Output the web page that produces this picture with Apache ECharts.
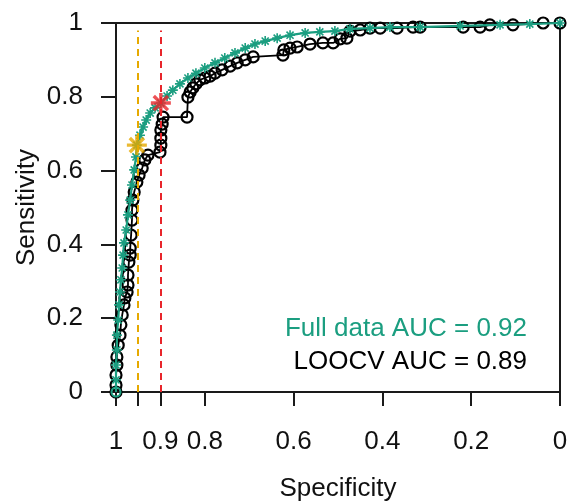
<!DOCTYPE html>
<html>
<head>
<meta charset="utf-8">
<script src="https://cdn.jsdelivr.net/npm/echarts@6/dist/echarts.min.js"></script>
<style>
html,body{margin:0;padding:0;background:#fff;}
#chart{width:568px;height:503px;}
</style>
</head>
<body>
<div id="chart"></div>
<script>
// ---- Data (specificity, sensitivity) ----
const fullSpec = [1.000,1.000,1.000,0.998,0.998,0.995,0.993,0.991,0.989,0.986,0.984,0.982,0.977,0.973,0.968,0.964,0.959,0.955,0.953,0.946,0.939,0.932,0.923,0.912,0.899,0.885,0.872,0.856,0.838,0.820,0.800,0.777,0.755,0.732,0.709,0.687,0.664,0.637,0.608,0.574,0.541,0.507,0.473,0.428,0.383,0.315,0.225,0.135,0.068,0.000];
const fullSens = [0.000,0.033,0.073,0.114,0.154,0.195,0.236,0.271,0.304,0.336,0.371,0.404,0.439,0.480,0.520,0.561,0.602,0.637,0.669,0.696,0.718,0.737,0.756,0.770,0.783,0.802,0.818,0.835,0.851,0.864,0.878,0.892,0.905,0.919,0.932,0.943,0.951,0.959,0.967,0.973,0.976,0.978,0.984,0.986,0.989,0.989,0.992,0.995,0.997,1.000];

const loocvSpec = [1.000,1.000,1.000,0.998,0.998,0.995,0.991,0.989,0.986,0.982,0.980,0.975,0.973,0.973,0.971,0.968,0.968,0.966,0.964,0.964,0.962,0.959,0.953,0.948,0.941,0.935,0.928,0.901,0.899,0.899,0.899,0.896,0.894,0.840,0.838,0.833,0.827,0.820,0.811,0.800,0.788,0.777,0.761,0.743,0.727,0.709,0.691,0.624,0.622,0.608,0.592,0.563,0.534,0.511,0.495,0.480,0.473,0.450,0.428,0.405,0.367,0.331,0.315,0.218,0.180,0.158,0.106,0.038,0.000];
const loocvSens = [0.000,0.019,0.046,0.073,0.095,0.127,0.154,0.182,0.209,0.236,0.255,0.271,0.290,0.317,0.352,0.371,0.390,0.425,0.466,0.493,0.520,0.542,0.569,0.588,0.607,0.629,0.642,0.650,0.669,0.688,0.710,0.726,0.745,0.745,0.799,0.813,0.824,0.835,0.846,0.851,0.856,0.864,0.873,0.883,0.892,0.900,0.908,0.913,0.927,0.932,0.935,0.943,0.946,0.946,0.957,0.959,0.978,0.981,0.986,0.986,0.986,0.989,0.989,0.989,0.989,0.995,0.995,1.000,1.000];

// Optimal cut-off points [specificity, sensitivity]
const fullDataBest = [0.899, 0.783];
const fullDataAlt  = [0.953, 0.669];
const cutoffLines  = [0.95, 0.9];

// Axis ticks
const xTickValues  = [1, 0.95, 0.9, 0.8, 0.6, 0.4, 0.2, 0];
const xLabelValues = [1, 0.9, 0.8, 0.6, 0.4, 0.2, 0];

const aucTexts = ['Full data AUC = 0.92', 'LOOCV AUC = 0.89'];

// ---- Styles ----
const TEAL = '#1b9e80';
const BLACK = '#000';
const RED = '#e8252b';
const GOLD = '#e6a900';
const AXC = '#1a1a1a';
const FONT = '"Liberation Sans", Arial, sans-serif';

function asteriskPath(arms, hw) {
  let p = '';
  for (let i = 0; i < arms; i++) {
    const t = Math.PI * i / arms;
    const dx = Math.cos(t), dy = Math.sin(t);
    const nx = -dy * hw, ny = dx * hw;
    const pts = [[dx + nx, dy + ny], [-dx + nx, -dy + ny], [-dx - nx, -dy - ny], [dx - nx, dy - ny]];
    p += 'M' + pts.map(q => (q[0] * 100).toFixed(1) + ' ' + (q[1] * 100).toFixed(1)).join(' L') + ' Z ';
  }
  return 'path://' + p;
}
const AST = asteriskPath(4, 0.16);
const AST_BIG = asteriskPath(4, 0.17);

const zip = (a, b) => a.map((v, i) => [v, b[i]]);

const chart = echarts.init(document.getElementById('chart'), null, {renderer: 'canvas'});

const fullData = zip(fullSpec, fullSens).map((d, i) =>
  i === 0 ? {value: d, symbol: 'circle', symbolSize: 9, itemStyle: {color: 'rgba(0,0,0,0)', borderColor: TEAL, borderWidth: 2}} : d);

const frameAxis = {
  show: true, min: 0, max: 1, type: 'value',
  axisLine: {show: true, onZero: false, lineStyle: {color: AXC, width: 2}},
  axisTick: {show: false}, axisLabel: {show: false}, splitLine: {show: false}
};

chart.setOption({
  animation: false,
  backgroundColor: '#fff',
  textStyle: {fontFamily: FONT},
  grid: {left: 116, top: 23, width: 444, height: 369, show: false, containLabel: false, outerBoundsMode: 'none'},
  xAxis: [{
    type: 'value', min: 0, max: 1, interval: 0.05, inverse: true, position: 'bottom',
    name: 'Specificity', nameLocation: 'middle', nameGap: 84, nameMoveOverlap: false,
    nameTextStyle: {fontSize: 26, color: '#111', fontFamily: FONT},
    axisLine: {show: true, onZero: false, lineStyle: {color: AXC, width: 2}},
    axisTick: {show: true, length: 14, inside: false, customValues: xTickValues, lineStyle: {color: AXC, width: 2}},
    axisLabel: {customValues: xLabelValues, fontSize: 26, color: '#111', margin: 37, fontFamily: FONT,
      hideOverlap: false,
      formatter: v => String(Math.round(v * 100) / 100)},
    splitLine: {show: false}
  }, Object.assign({}, frameAxis, {position: 'top', inverse: true})],
  yAxis: [{
    type: 'value', min: 0, max: 1, interval: 0.2, position: 'left',
    name: 'Sensitivity', nameLocation: 'middle', nameGap: 76, nameMoveOverlap: false,
    nameTextStyle: {fontSize: 26, color: '#111', fontFamily: FONT},
    axisLine: {show: true, onZero: false, lineStyle: {color: AXC, width: 2}},
    axisTick: {show: true, length: 15, inside: false, lineStyle: {color: AXC, width: 2}},
    axisLabel: {fontSize: 26, color: '#111', margin: 33, fontFamily: FONT,
      hideOverlap: false,
      verticalAlign: 'middle', verticalAlignMinLabel: 'middle', verticalAlignMaxLabel: 'middle',
      formatter: v => String(Math.round(v * 10) / 10)},
    splitLine: {show: false}
  }, Object.assign({}, frameAxis, {position: 'right'})],
  series: [
    {
      name: 'LOOCV', type: 'line', data: zip(loocvSpec, loocvSens),
      symbol: 'circle', symbolSize: 11, showAllSymbol: true, z: 2,
      lineStyle: {color: BLACK, width: 1.8},
      itemStyle: {color: 'rgba(0,0,0,0)', borderColor: BLACK, borderWidth: 2.2},
      emphasis: {disabled: true}
    },
    {
      name: 'Full data', type: 'line', data: fullData,
      symbol: AST, symbolSize: 10, showAllSymbol: true, z: 3,
      lineStyle: {color: TEAL, width: 2.2},
      itemStyle: {color: TEAL},
      emphasis: {disabled: true},
      markLine: {
        silent: true, symbol: ['none', 'none'], label: {show: false},
        data: [
          [{coord: [cutoffLines[0], 0], lineStyle: {color: GOLD}}, {coord: [cutoffLines[0], 0.98]}],
          [{coord: [cutoffLines[1], 0], lineStyle: {color: RED}}, {coord: [cutoffLines[1], 0.98]}]
        ],
        lineStyle: {type: [7, 5], width: 2}
      }
    },
    {
      name: 'cut1', type: 'scatter', data: [fullDataAlt], symbol: AST_BIG, symbolSize: 20, z: 5,
      itemStyle: {color: GOLD}, emphasis: {disabled: true}
    },
    {
      name: 'cut2', type: 'scatter', data: [fullDataBest], symbol: AST_BIG, symbolSize: 20, z: 5,
      itemStyle: {color: RED}, emphasis: {disabled: true}
    }
  ],
  graphic: [
    {type: 'text', x: 527, y: 329, z: 10, style: {text: aucTexts[0], fill: TEAL, font: '26px ' + FONT, align: 'right', verticalAlign: 'middle'}},
    {type: 'text', x: 527, y: 362, z: 10, style: {text: aucTexts[1], fill: '#000', font: '26px ' + FONT, align: 'right', verticalAlign: 'middle'}}
  ]
});
</script>
</body>
</html>
